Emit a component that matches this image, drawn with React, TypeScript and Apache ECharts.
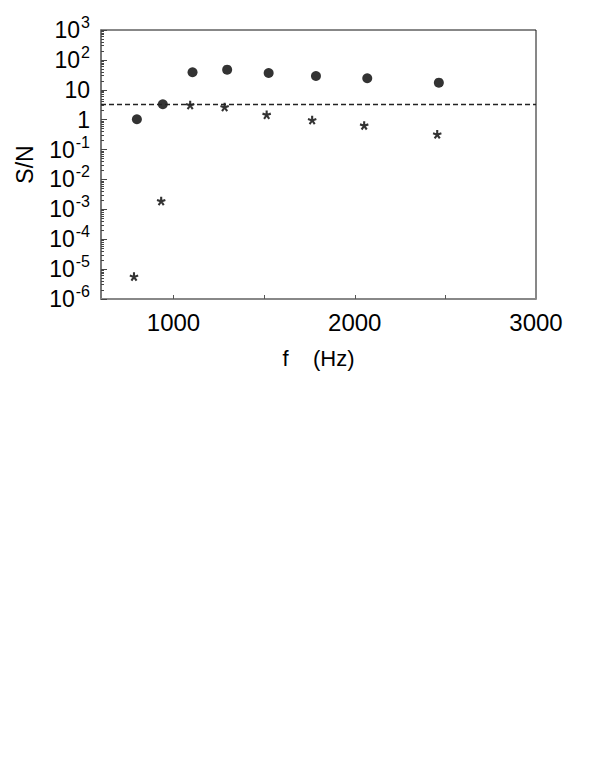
import React, { useEffect, useRef } from "react";
import * as echarts from "echarts";

// Data
const circleFreq = [798, 941, 1105, 1296, 1525, 1786, 2069, 2464];
const circleSN = [1.03, 3.27, 38.5, 47, 36.5, 29, 24.3, 17.3];
const starFreq = [782, 932, 1092, 1282, 1514, 1765, 2052, 2455];
const starSN = [5.5e-6, 1.86e-3, 3.03, 2.6, 1.44, 0.95, 0.63, 0.316];
const thresholdSN = 3.2;

// Axis ticks / labels
const xLabelValues = [1000, 2000, 3000];
const xTickValues = [1000, 1500, 2000, 2500];
const yExponents = [-6, -5, -4, -3, -2, -1, 0, 1, 2, 3];
const minorMultipliers = [2, 3, 4, 5, 6, 7, 8, 9];

const FONT = "Liberation Sans, Arial, Helvetica, sans-serif";

function asteriskPath(): string {
  const w = 0.24;
  let d = "";
  for (let k = 0; k < 5; k++) {
    const a = ((-90 + 72 * k) * Math.PI) / 180;
    const dx = Math.cos(a), dy = Math.sin(a);
    const px = -dy * w, py = dx * w;
    const pts = [
      [px, py],
      [dx + px, dy + py],
      [dx - px, dy - py],
      [-px, -py],
    ].map(([x, y]) => [(x + 1) * 50, (y + 1) * 50]);
    d += `M${pts[0][0].toFixed(2)} ${pts[0][1].toFixed(2)}`;
    for (let i = 1; i < 4; i++) d += ` L${pts[i][0].toFixed(2)} ${pts[i][1].toFixed(2)}`;
    d += " Z ";
  }
  return "path://" + d;
}

export default function App() {
  const ref = useRef<HTMLDivElement>(null);
  useEffect(() => {
    if (!ref.current) return;
    const chart = echarts.init(ref.current, null, { renderer: "svg" });
    const gridRect = { left: 101, top: 30, right: 63, bottom: 477 };
    const minorVals: number[] = [];
    for (let e = -6; e < 3; e++) {
      for (const m of minorMultipliers) minorVals.push(e + Math.log10(m));
    }
    const minExp = yExponents[0];
    const maxExp = yExponents[yExponents.length - 1];
    const hiddenX = (gridIndex: number) => ({
      type: "value",
      gridIndex,
      min: 600,
      max: 3000,
      show: false,
    });
    chart.setOption({
      animation: false,
      backgroundColor: "#fff",
      grid: [
        { ...gridRect, show: true, borderColor: "#111", borderWidth: 1, backgroundColor: "transparent" },
        { ...gridRect },
        { ...gridRect },
      ],
      xAxis: [
        {
          type: "value",
          gridIndex: 0,
          min: 600,
          max: 3000,
          name: "f    (Hz)",
          nameLocation: "middle",
          nameGap: 48,
          nameTextStyle: { fontSize: 22, color: "#000", fontFamily: FONT },
          splitLine: { show: false },
          axisLine: { show: true, lineStyle: { color: "#888", width: 2 } },
          axisTick: {
            show: true,
            inside: true,
            length: 4,
            customValues: xTickValues,
            lineStyle: { color: "#555" },
          },
          axisLabel: {
            customValues: xLabelValues,
            formatter: (v: number) => String(v),
            fontSize: 24,
            color: "#000",
            fontFamily: FONT,
            margin: 11,
          },
        },
        hiddenX(1),
        hiddenX(2),
      ],
      yAxis: [
        {
          type: "log",
          logBase: 10,
          gridIndex: 0,
          min: 1e-6,
          max: 1e3,
          splitLine: { show: false },
          axisLine: { show: true, lineStyle: { color: "#777", width: 2 } },
          axisTick: { show: false },
          axisLabel: { show: false },
        },
        {
          type: "value",
          gridIndex: 1,
          min: minExp,
          max: maxExp,
          interval: 1,
          name: "S/N",
          nameLocation: "middle",
          nameGap: 65,
          nameTextStyle: { fontSize: 23, color: "#000", fontFamily: FONT },
          splitLine: { show: false },
          axisLine: { show: false },
          axisTick: { show: true, inside: true, length: 6, lineStyle: { color: "#444" } },
          axisLabel: {
            margin: 11,
            color: "#000",
            fontFamily: FONT,
            fontSize: 23,
            formatter: (v: number) => {
              const n = Math.round(v);
              if (n === 0) return "{b|1}";
              if (n === 1) return "{b|10}";
              return `{b|10}{s|${n}}`;
            },
            rich: {
              b: { fontSize: 23, color: "#000", fontFamily: FONT },
              s: { fontSize: 16, color: "#000", fontFamily: FONT, padding: [0, 0, 15, 1] },
            },
          },
        },
        {
          type: "value",
          gridIndex: 2,
          min: minExp,
          max: maxExp,
          splitLine: { show: false },
          axisLine: { show: false },
          axisLabel: { show: false },
          axisTick: {
            show: true,
            inside: true,
            length: 3,
            customValues: minorVals,
            lineStyle: { color: "#444" },
          },
        },
      ],
      series: [
        {
          type: "scatter",
          xAxisIndex: 0,
          yAxisIndex: 0,
          symbol: "circle",
          symbolSize: 10,
          itemStyle: { color: "#000" },
          data: circleFreq.map((f, i) => [f, circleSN[i]]),
          markLine: {
            silent: true,
            symbol: ["none", "none"],
            label: { show: false },
            lineStyle: { type: [5, 3], color: "#222", width: 1.3 },
            data: [{ yAxis: thresholdSN }],
          },
        },
        {
          type: "scatter",
          xAxisIndex: 0,
          yAxisIndex: 0,
          symbol: asteriskPath(),
          symbolSize: 9,
          itemStyle: { color: "#000" },
          data: starFreq.map((f, i) => [f, starSN[i]]),
        },
      ],
    });
    return () => chart.dispose();
  }, []);
  return (
    <div
      ref={ref}
      style={{ position: "fixed", left: 0, top: 0, width: 599, height: 776 }}
    />
  );
}
